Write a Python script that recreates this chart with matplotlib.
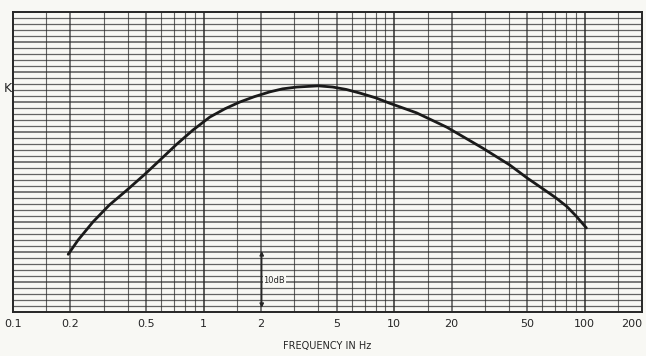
import numpy as np
import matplotlib
matplotlib.use("Agg")
import matplotlib.pyplot as plt

# response curve (frequency in Hz, level in dB above bottom line)
freq = [0.195, 0.22, 0.263, 0.32, 0.396, 0.49, 0.59, 0.72, 0.878, 1.08, 1.3,
        1.55, 1.85, 2.23, 2.6, 3.09, 4.0, 4.76, 5.6, 6.6, 8.0, 9.48, 13.1,
        18.9, 29.2, 40.4, 50.0, 58.0, 70.0, 80.4, 90.0, 102]
level = [9.6, 12.0, 15.0, 17.8, 20.3, 22.9, 25.3, 27.9, 30.3, 32.5, 33.9,
         35.0, 35.9, 36.7, 37.2, 37.5, 37.7, 37.5, 37.1, 36.5, 35.7, 34.8, 33.2,
         30.8, 27.3, 24.5, 22.3, 20.9, 19.1, 17.6, 16.0, 14.0]

tick_vals = [0.1, 0.2, 0.5, 1, 2, 5, 10, 20, 50, 100, 200]
tick_labels = ["0.1", "0.2", "0.5", "1", "2", "5", "10", "20", "50", "100", "200"]
minor_subs = [1.5, 2, 3, 4, 5, 6, 7, 8, 9]

bg = "#f8f8f4"
ink = "#262626"

fig = plt.figure(figsize=(6.46, 3.56), dpi=100, facecolor=bg)
ax = fig.add_axes([0.020, 0.124, 0.974, 0.842], facecolor=bg)
ax.set_xscale("log")
ax.set_xlim(0.1, 200)
ax.set_ylim(0, 50)

# graph-paper grid
for dec in [0.1, 1, 10, 100]:
    for s in minor_subs:
        v = dec * s
        if v < 200:
            heavy = s in (2, 5)
            ax.axvline(v, color=ink, lw=1.2 if heavy else 0.8, alpha=0.7, zorder=1)
for v in [1, 10, 100]:
    ax.axvline(v, color=ink, lw=1.3, alpha=0.8, zorder=1)
for db in range(1, 50):
    ax.axhline(db, color=ink, lw=0.9 if db % 5 else 1.2, alpha=0.7, zorder=1)

ax.plot(freq, level, color="#1a1a1a", lw=2.0, zorder=3, solid_capstyle="round")

# 10 dB scale marker
ax.annotate("", xy=(2.02, 10.6), xytext=(2.02, 0.2),
            arrowprops=dict(arrowstyle="<|-|>", color=ink, lw=1.0,
                            mutation_scale=6), zorder=4)
ax.text(2.35, 5.3, "10dB", fontsize=6, color=ink, ha="center", va="center",
        bbox=dict(facecolor=bg, edgecolor="none", pad=0.5), zorder=5)

ax.set_xticks(tick_vals)
ax.set_xticklabels(tick_labels, fontsize=8, color=ink)
ax.get_xticklabels()[-1].set_horizontalalignment("right")
ax.xaxis.set_minor_locator(matplotlib.ticker.NullLocator())
ax.tick_params(axis="x", length=0, pad=5)
ax.set_yticks([])
for sp in ax.spines.values():
    sp.set_color(ink)
    sp.set_linewidth(1.4)

ax.set_xlabel("FREQUENCY IN Hz", fontsize=7, color=ink, labelpad=9)
fig.text(0.019, 1 - 88 / 356, "K", fontsize=9, color=ink, ha="right", va="center")

fig.savefig("out.png", dpi=100, facecolor=bg)
